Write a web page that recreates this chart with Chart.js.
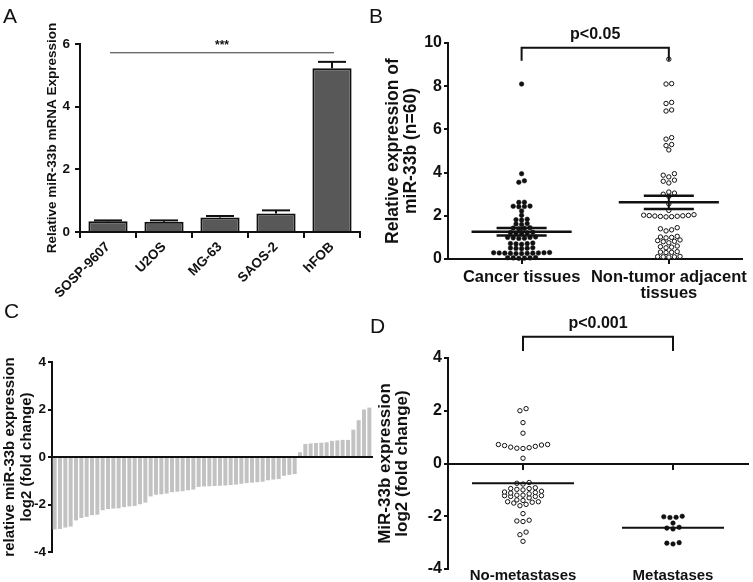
<!DOCTYPE html>
<html>
<head>
<meta charset="utf-8">
<script src="https://cdn.jsdelivr.net/npm/chart.js@4.4.0/dist/chart.umd.min.js"></script>
<style>
  html, body { margin: 0; padding: 0; background: #fff; }
  #wrap { position: relative; width: 753px; height: 582px; overflow: hidden; }
  #wrap canvas { position: absolute; left: 0; top: 0; }
  .panel { position: absolute; font: 21px "Liberation Sans", Arial, sans-serif; line-height: 1; color: #111; }
</style>
</head>
<body>
<div id="wrap">
  <canvas id="chartA" width="753" height="582"></canvas>
  <canvas id="chartB" width="753" height="582"></canvas>
  <canvas id="chartC" width="753" height="582"></canvas>
  <canvas id="chartD" width="753" height="582"></canvas>
  <div class="panel" style="left:3px;top:5px">A</div>
  <div class="panel" style="left:369px;top:5px">B</div>
  <div class="panel" style="left:4px;top:300px">C</div>
  <div class="panel" style="left:370px;top:315px">D</div>
</div>
<script>
// A: cell lines
const cellLines = ['SOSP-9607', 'U2OS', 'MG-63', 'SAOS-2', 'hFOB'];
const cellExpr = [0.34, 0.33, 0.46, 0.59, 5.23];
const cellErr = [0.03, 0.04, 0.05, 0.1, 0.2];

// B: tissues (n=60 each)
const tissueGroups = ['Cancer tissues', ['Non-tumor adjacent', 'tissues']];
const cancerExpr = [
  0.03, 0.04, 0.05, 0.05, 0.06, 0.07,
  0.25, 0.25, 0.26, 0.26, 0.27, 0.27, 0.28, 0.28, 0.29, 0.29, 0.3,
  0.48, 0.49, 0.5, 0.51, 0.52,
  0.68, 0.7, 0.71, 0.72, 0.74,
  0.95, 0.96, 0.98, 1.0, 1.0, 1.02,
  1.18, 1.2, 1.21, 1.22, 1.24,
  1.4, 1.42, 1.43, 1.45,
  1.6, 1.62, 1.64,
  1.8, 1.82, 1.84,
  2.02, 2.22, 2.42, 2.43, 2.44, 2.45, 2.62, 2.63,
  3.55, 3.62, 3.95, 8.1
];
const adjacentExpr = [
  0.09, 0.1, 0.1, 0.11, 0.12,
  0.3, 0.31, 0.32, 0.34,
  0.52, 0.55, 0.57, 0.6,
  0.75, 0.8, 0.82, 0.85, 0.88,
  0.98, 1.0, 1.02, 1.05,
  1.3, 1.35, 1.4, 1.45,
  1.95, 1.96, 1.97, 1.98, 1.99, 2.0, 2.01, 2.02, 2.03, 2.05,
  2.25, 2.55, 2.9, 3.0, 3.05, 3.1,
  3.52, 3.6, 3.65, 3.8, 3.88, 3.95,
  5.05, 5.25, 5.3, 5.55, 5.62,
  6.85, 6.9, 7.2, 7.25, 8.1, 8.12, 9.25
];

// C: per-case log2 fold change, sorted
const caseLog2 = [
  -3.05, -3.03, -2.97, -2.93, -2.67, -2.57, -2.52, -2.45, -2.43, -2.24,
  -2.19, -2.17, -2.16, -2.11, -2.08, -2.06, -1.99, -1.92, -1.66, -1.59,
  -1.57, -1.54, -1.48, -1.46, -1.44, -1.40, -1.37, -1.26, -1.24, -1.23,
  -1.22, -1.21, -1.20, -1.18, -1.16, -1.13, -1.10, -1.08, -1.06, -1.04,
  -0.98, -0.95, -0.93, -0.79, -0.75, -0.72,
  0.2, 0.55, 0.57, 0.59, 0.6, 0.62, 0.68, 0.7, 0.72, 0.72, 1.15, 1.55, 2.0, 2.08
];

// D: metastasis groups
const metGroups = ['No-metastases', 'Metastases'];
const noMetLog2 = [
  2.08, 2.0, 1.55, 1.15, 0.72, 0.72, 0.7, 0.68, 0.65, 0.62, 0.6, 0.58, 0.57, 0.2,
  -0.72, -0.75, -0.78, -0.92, -0.95, -0.95, -0.98, -1.0, -1.05, -1.08, -1.1, -1.12,
  -1.15, -1.2, -1.2, -1.22, -1.22, -1.25, -1.25, -1.3, -1.38, -1.4, -1.45, -1.45,
  -1.47, -1.5, -1.55, -1.6, -1.9, -2.15, -2.18, -2.2, -2.6, -2.7, -2.95
];
const metLog2 = [-2.0, -2.02, -2.04, -2.05, -2.26, -2.42, -2.45, -2.48, -3.0, -3.02, -3.05];

const black = '#111';
const fontFamily = '"Liberation Sans", Arial, sans-serif';

Chart.defaults.font.family = fontFamily;
Chart.defaults.font.weight = 'bold';
Chart.defaults.color = black;
Chart.defaults.animation = false;
Chart.defaults.responsive = false;
Chart.defaults.plugins.legend.display = false;
Chart.defaults.plugins.tooltip.enabled = false;

function axisStyle(tick) {
  return {
    grid: { display: true, drawOnChartArea: false, drawTicks: true, tickLength: tick, color: black, lineWidth: 2 },
    border: { display: true, color: black, width: 2 }
  };
}

function stats(v) {
  const n = v.length;
  const m = v.reduce((a, b) => a + b, 0) / n;
  const sd = Math.sqrt(v.reduce((a, b) => a + (b - m) * (b - m), 0) / (n - 1));
  return { mean: m, sem: sd / Math.sqrt(n) };
}

// simple dot-plot layout: rows of close values, lowest in the middle
function swarm(values, center, binH, dx) {
  const sorted = [...values].sort((a, b) => a - b);
  const pts = [];
  let i = 0;
  while (i < sorted.length) {
    const start = sorted[i];
    const bin = [];
    while (i < sorted.length && sorted[i] - start < binH - 1e-9) bin.push(sorted[i++]);
    const n = bin.length;
    bin.forEach((v, k) => {
      let slot;
      if (n % 2 === 1) slot = k === 0 ? 0 : (k % 2 ? -(k + 1) / 2 : k / 2);
      else slot = (k % 2 ? 1 : -1) * (Math.floor(k / 2) + 0.5);
      pts.push({ x: center + slot * dx, y: v });
    });
  }
  return pts;
}

function seg(ctx, x0, y0, x1, y1, w) {
  ctx.lineWidth = w;
  ctx.beginPath();
  ctx.moveTo(x0, y0);
  ctx.lineTo(x1, y1);
  ctx.stroke();
}

function bracket(ctx, x0, x1, yTop, yArm, label) {
  ctx.lineWidth = 2;
  ctx.beginPath();
  ctx.moveTo(x0, yArm);
  ctx.lineTo(x0, yTop);
  ctx.lineTo(x1, yTop);
  ctx.lineTo(x1, yArm);
  ctx.stroke();
  ctx.font = 'bold 16px ' + fontFamily;
  ctx.textAlign = 'center';
  ctx.textBaseline = 'middle';
  ctx.fillStyle = black;
  ctx.fillText(label, (x0 + x1) / 2, yTop - 13);
}

// ---- A ----
new Chart(document.getElementById('chartA'), {
  type: 'bar',
  data: {
    labels: cellLines,
    datasets: [{
      data: cellExpr,
      backgroundColor: '#585858',
      borderColor: black,
      borderWidth: 2,
      barPercentage: 0.7,
      categoryPercentage: 1
    }]
  },
  options: {
    layout: { padding: { left: 44, top: 44, right: 393, bottom: 280 } },
    scales: {
      x: {
        ...axisStyle(6),
        ticks: { minRotation: 45, maxRotation: 45, autoSkip: false, font: { size: 13.5 }, padding: 1 },
        afterFit: s => { s.height = 70; }
      },
      y: {
        min: 0, max: 6,
        ...axisStyle(5),
        ticks: { stepSize: 2, font: { size: 13.5 }, padding: 5 },
        title: { display: true, text: 'Relative miR-33b mRNA Expression', font: { size: 13.5 }, padding: 0 },
        afterFit: s => { s.width = 36; }
      }
    }
  },
  plugins: [{
    id: 'errA',
    afterDatasetsDraw(chart) {
      const ctx = chart.ctx, sy = chart.scales.y, sx = chart.scales.x;
      const bars = chart.getDatasetMeta(0).data;
      ctx.save();
      ctx.strokeStyle = black;
      cellExpr.forEach((v, i) => {
        const x = bars[i].x;
        const yt = sy.getPixelForValue(v), ye = sy.getPixelForValue(v + cellErr[i]);
        seg(ctx, x, yt, x, ye, 2);
        seg(ctx, x - 14, ye, x + 14, ye, 2);
      });
      const ys = sy.getPixelForValue(5.72);
      const xa = sx.getPixelForValue(0) + 2, xb = sx.getPixelForValue(4) + 2;
      ctx.strokeStyle = '#333';
      seg(ctx, xa, ys, xb, ys, 1);
      ctx.font = 'bold 12px ' + fontFamily;
      ctx.textAlign = 'center';
      ctx.textBaseline = 'middle';
      ctx.fillStyle = black;
      ctx.fillText('***', (xa + xb) / 2, ys - 7);
      ctx.restore();
    }
  }]
});

// ---- B ----
new Chart(document.getElementById('chartB'), {
  type: 'scatter',
  data: {
    datasets: [
      { data: swarm(cancerExpr, 0, 0.2, 0.038), pointRadius: 2.3, pointBackgroundColor: black, pointBorderColor: black, pointBorderWidth: 0.5, clip: false },
      { data: swarm(adjacentExpr, 1, 0.2, 0.038), pointRadius: 2.2, pointBackgroundColor: '#fff', pointBorderColor: black, pointBorderWidth: 1, clip: false }
    ]
  },
  options: {
    layout: { padding: { left: 384, top: 43, right: 3, bottom: 278 } },
    scales: {
      x: {
        type: 'linear', min: -0.5, max: 1.5,
        ...axisStyle(5),
        afterBuildTicks: s => { s.ticks = tissueGroups.map((g, i) => ({ value: i })); },
        ticks: { callback: v => tissueGroups[v], font: { size: 16.5, lineHeight: 1 }, padding: 5, maxRotation: 0 },
        afterFit: s => { s.height = 45; }
      },
      y: {
        min: 0, max: 10,
        ...axisStyle(4),
        ticks: { stepSize: 2, font: { size: 16 }, padding: 2 },
        title: { display: true, text: ['Relative expression of', 'miR-33b (n=60)'], font: { size: 17.5, lineHeight: 1.05 }, padding: 0 },
        afterFit: s => { s.width = 64; }
      }
    }
  },
  plugins: [{
    id: 'annoB',
    afterDatasetsDraw(chart) {
      const ctx = chart.ctx, sx = chart.scales.x, sy = chart.scales.y;
      ctx.save();
      ctx.strokeStyle = black;
      [cancerExpr, adjacentExpr].forEach((vals, i) => {
        const s = stats(vals);
        const ym = sy.getPixelForValue(s.mean);
        seg(ctx, sx.getPixelForValue(i - 0.34), ym, sx.getPixelForValue(i + 0.34), ym, 2.5);
        [s.mean - s.sem, s.mean + s.sem].forEach(v => {
          const yy = sy.getPixelForValue(v);
          seg(ctx, sx.getPixelForValue(i - 0.17), yy, sx.getPixelForValue(i + 0.17), yy, 2.5);
        });
        seg(ctx, sx.getPixelForValue(i), sy.getPixelForValue(s.mean - s.sem), sx.getPixelForValue(i), sy.getPixelForValue(s.mean + s.sem), 2);
      });
      bracket(ctx, sx.getPixelForValue(0), sx.getPixelForValue(1), sy.getPixelForValue(9.78), sy.getPixelForValue(9.18), 'p<0.05');
      ctx.restore();
    }
  }]
});

// ---- C ----
new Chart(document.getElementById('chartC'), {
  type: 'bar',
  data: {
    labels: caseLog2.map((v, i) => i + 1),
    datasets: [{ data: caseLog2, backgroundColor: '#c2c2c2', barPercentage: 0.75, categoryPercentage: 1 }]
  },
  options: {
    layout: { padding: { left: 2, top: 362, right: 381, bottom: 30 } },
    scales: {
      x: {
        position: { y: 0 }, z: 1,
        grid: { display: false, drawTicks: false },
        border: { display: true, color: black, width: 2 },
        ticks: { display: false }
      },
      y: {
        min: -4, max: 4,
        ...axisStyle(4),
        ticks: { stepSize: 2, font: { size: 13.5 }, padding: 2 },
        title: { display: true, text: ['relative miR-33b expression', 'log2 (fold change)'], font: { size: 15, lineHeight: 1.1 }, padding: 0 },
        afterFit: s => { s.width = 50; }
      }
    }
  }
});

// ---- D ----
const metAxis = {
  type: 'linear', min: -0.5, max: 1.5,
  afterBuildTicks: s => { s.ticks = metGroups.map((g, i) => ({ value: i })); }
};
new Chart(document.getElementById('chartD'), {
  type: 'scatter',
  data: {
    datasets: [
      { data: swarm(noMetLog2, 0, 0.19, 0.041), pointRadius: 2.2, pointBackgroundColor: '#fff', pointBorderColor: black, pointBorderWidth: 1, clip: false },
      { data: swarm(metLog2, 1, 0.19, 0.041), pointRadius: 2.3, pointBackgroundColor: black, pointBorderColor: black, pointBorderWidth: 0.5, clip: false }
    ]
  },
  options: {
    layout: { padding: { left: 376, top: 358, right: 5, bottom: 0 } },
    scales: {
      x: {
        ...metAxis,
        position: { y: 0 }, z: 1,
        ...axisStyle(5),
        ticks: { display: false }
      },
      x2: {
        ...metAxis,
        axis: 'x', position: 'bottom',
        grid: { display: false, drawTicks: false },
        border: { display: false },
        ticks: { callback: v => metGroups[v], font: { size: 15, lineHeight: 1 }, padding: -1, maxRotation: 0 },
        afterFit: s => { s.height = 13; }
      },
      y: {
        min: -4, max: 4,
        ...axisStyle(4),
        ticks: { stepSize: 2, font: { size: 16 }, padding: 2 },
        title: { display: true, text: ['MiR-33b expression', 'log2 (fold change)'], font: { size: 17, lineHeight: 1.05 }, padding: 0 },
        afterFit: s => { s.width = 72; }
      }
    }
  },
  plugins: [{
    id: 'annoD',
    afterDatasetsDraw(chart) {
      const ctx = chart.ctx, sx = chart.scales.x, sy = chart.scales.y;
      ctx.save();
      ctx.strokeStyle = black;
      [noMetLog2, metLog2].forEach((vals, i) => {
        const ym = sy.getPixelForValue(stats(vals).mean);
        seg(ctx, sx.getPixelForValue(i - 0.34), ym, sx.getPixelForValue(i + 0.34), ym, 2);
      });
      bracket(ctx, sx.getPixelForValue(0), sx.getPixelForValue(1), sy.getPixelForValue(4.81), sy.getPixelForValue(4.27), 'p<0.001');
      ctx.restore();
    }
  }]
});
</script>
</body>
</html>
